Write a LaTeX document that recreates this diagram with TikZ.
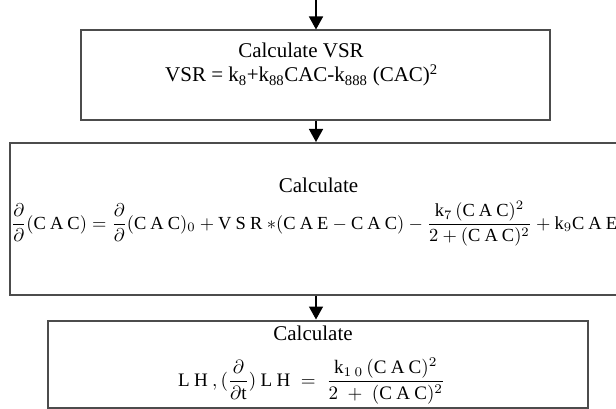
\documentclass[tikz,border=0pt]{standalone}
\usepackage{fontspec}
\usepackage{amsmath}
\usepackage{graphicx}
\setmainfont{Liberation Serif}
\usetikzlibrary{arrows.meta}
\newcommand{\lsp}{\mkern4mu}
\newcommand{\cac}{\mathrm{C\lsp A\lsp C}}
\newcommand{\cae}{\mathrm{C\lsp A\lsp E}}
\begin{document}
\begin{tikzpicture}[x=1pt,y=-1pt,
  flowbox/.style={draw=black!70,line width=2pt,rectangle,inner sep=0pt},
  label/.style={inner sep=0pt,font=\fontsize{21}{25}\selectfont},
  eqn/.style={inner sep=0pt},
  flowarrow/.style={draw=black,line width=1.5pt,-{Triangle[width=14pt,length=13pt]}}]
\useasboundingbox (0,0) rectangle (616,409);
\clip (0,0) rectangle (616,409);
\node[flowbox,minimum width=469pt,minimum height=89.5pt] (b1) at (315.5,75.25) {};
\node[flowbox,minimum width=614pt,minimum height=151.5pt] (b2) at (317,218.75) {};
\node[flowbox,minimum width=540pt,minimum height=87.5pt] (b3) at (318,364.25) {};
\coordinate (top) at (316,0);
\draw[flowarrow] (top) -- (top |- b1.north);
\draw[flowarrow] (top |- b1.south) -- (top |- b2.north);
\draw[flowarrow] (top |- b2.south) -- (top |- b3.north);
\node[label,anchor=base] (t1) at (301,58) {Calculate VSR};
\node[label,anchor=base] (t2) at (301.5,82) {VSR = k\textsubscript{8}+k\textsubscript{88}CAC-k\textsubscript{888} (CAC)\textsuperscript{2}};
\node[label,anchor=base] (t3) at (318.5,192.5) {Calculate};
\node[label,anchor=base] (t4) at (313,340) {Calculate};
\node[eqn,anchor=west] (e1) at (11,224) {\resizebox{606pt}{!}{$\displaystyle \frac{\partial}{\partial}(\cac)= \frac{\partial}{\partial}(\cac)_{0} + \mathrm{V\lsp S\lsp R}\ {*}(\cae - \cac) - \frac{\mathrm{k}_{7}\,(\cac)^{2}}{2+(\cac)^{2}} + \mathrm{k}_{9}\cae$}};
\node[eqn,anchor=west] (e2) at (178,381) {\resizebox{267pt}{!}{$\displaystyle \mathrm{L\lsp H}\lsp,(\frac{\partial}{\partial \mathrm{t}})\lsp\mathrm{L\lsp H}\;=\;\frac{\mathrm{k}_{1\lsp 0}\,(\cac)^{2}}{2\;+\;(\cac)^{2}}$}};
\end{tikzpicture}
\end{document}
